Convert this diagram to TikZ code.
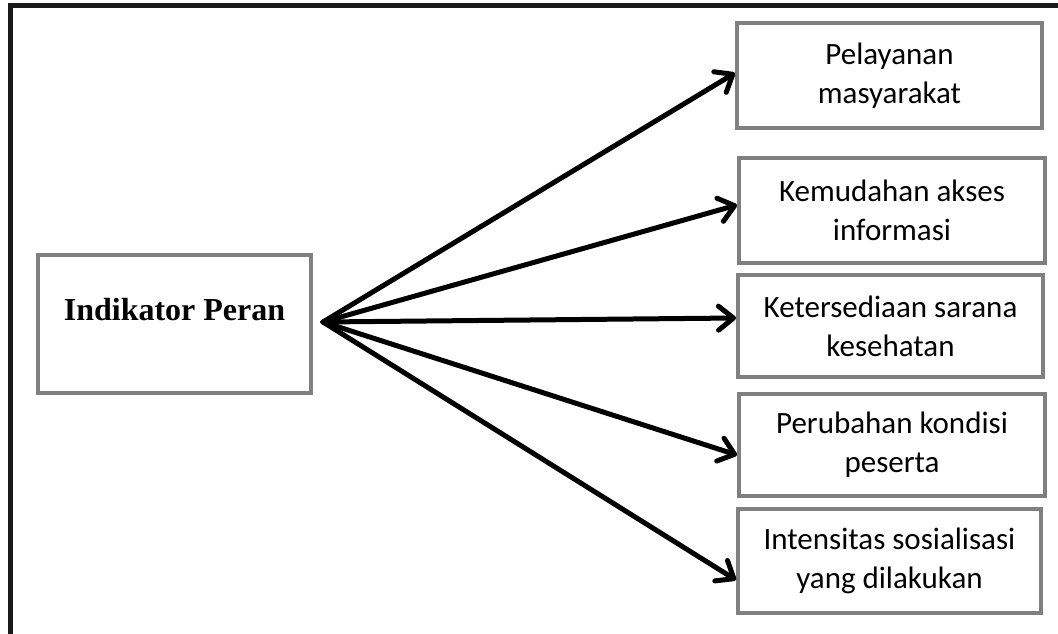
\documentclass[tikz,border=0pt]{standalone}
\usepackage{fontspec}
\setmainfont{Carlito}
\newfontfamily\serifbf{Liberation Serif}
\usetikzlibrary{arrows.meta,shadows}
\definecolor{boxgray}{RGB}{128,128,128}
\definecolor{framek}{RGB}{26,26,26}
\tikzset{
  framebox/.style={draw=boxgray, line width=4pt, fill=white, inner sep=0pt,
    drop shadow={shadow xshift=2pt, shadow yshift=-2pt, opacity=0.18, fill=black}},
  rbox/.style={framebox, minimum width=302pt, minimum height=101pt, align=center,
    font=\fontsize{31}{39}\selectfont},
  conn/.style={line width=5pt, line cap=round, line join=round,
    -{Straight Barb[length=15pt,width=24pt,line cap=round,line join=round]}}
}
\begin{document}
\begin{tikzpicture}[x=1pt,y=-1pt]
\useasboundingbox (0,0) rectangle (1058,634);
% outer frame (left and top edges)
\draw[framek, line width=5pt] (10,634) -- (10,5.8) -- (1058,5.8);
% boxes
\node[framebox, minimum width=273pt, minimum height=138pt,
      font=\serifbf\bfseries\fontsize{32}{38}\selectfont,
      text height=20pt, text depth=28pt] (L) at (174.5,324) {Indikator Peran};
\node[rbox, minimum width=305pt, minimum height=105pt] (B1) at (889.5,75.5) {Pelayanan\\masyarakat};
\node[rbox, minimum width=306pt, minimum height=105pt] (B2) at (892,210.5) {Kemudahan akses\\informasi};
\node[rbox, minimum width=305pt, minimum height=102pt] (B3) at (890.5,326) {Ketersediaan sarana\\kesehatan};
\node[rbox, minimum width=306pt, minimum height=102pt] (B4) at (892,445) {Perubahan kondisi\\peserta};
\node[rbox, minimum width=303pt, minimum height=104pt] (B5) at (889.5,561) {Intensitas sosialisasi\\yang dilakukan};
% connectors
\coordinate (S) at (323,322);
\draw[conn] (S) -- ([yshift=2.5pt]B1.west);
\draw[conn] (S) -- ([yshift=5.5pt]B2.west);
\draw[conn] (S) -- ([yshift=8pt]B3.west);
\draw[conn] (S) -- ([yshift=-10pt]B4.west);
\draw[conn] (S) -- ([yshift=-19pt]B5.west);
\end{tikzpicture}
\end{document}
